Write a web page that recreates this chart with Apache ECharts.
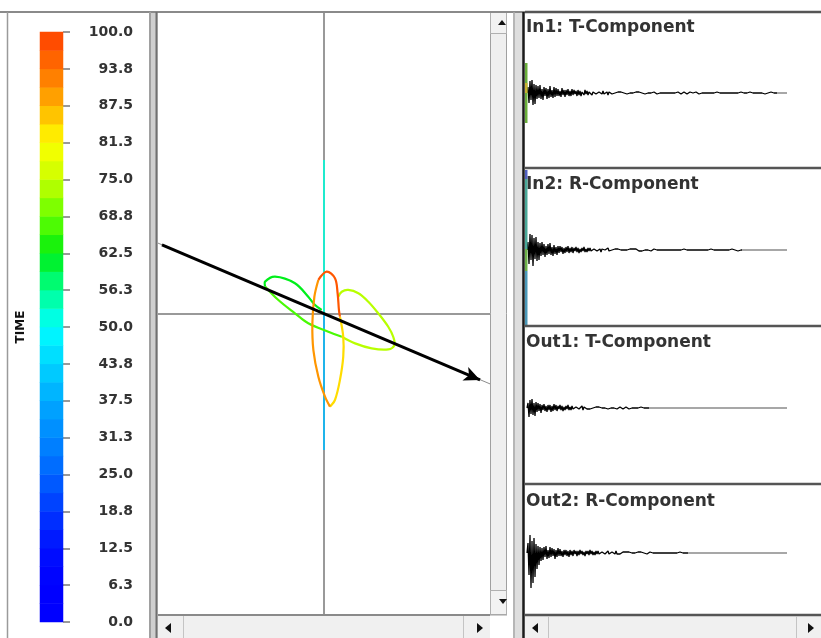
<!DOCTYPE html>
<html>
<head>
<meta charset="utf-8">
<title>Hodogram</title>
<script src="https://cdn.jsdelivr.net/npm/echarts@6/dist/echarts.min.js"></script>
<style>
  html, body { margin: 0; padding: 0; background: #fff; }
  #main { width: 821px; height: 638px; filter: blur(0.45px); }
</style>
</head>
<body>
<div id="main"></div>
<script>
// TIME colour scale, one colour per 6.25
const timeColors = ['#0000ff', '#0000ff', '#0010ff', '#0038ff', '#0064ff', '#0088ff', '#00aaff', '#00d4ff', '#00ffff',
  '#00ff90', '#00ee10', '#66ff00', '#c8ff00', '#ffff00', '#ffb000', '#ff7000', '#ff4000']
// colour bar cells (32 bands)
const colorCells = [1.6, 4.7, 7.8, 10.9, 14.1, 17.2, 20.3, 23.4, 26.6, 29.7, 32.8, 35.9, 39.1, 42.2, 45.3, 48.4,
  51.6, 54.7, 57.8, 60.9, 64.1, 67.2, 70.3, 73.4, 76.6, 79.7, 82.8, 85.9, 89.1, 92.2, 95.3, 98.4]

// particle motion, one piece per time
const partTime = [40, 52, 62, 67, 74, 84, 90, 97]
const partX = [
  [0, 0],
  [0, 0],
  [-0.014, -0.054, -0.095, -0.175, -0.295, -0.355, -0.355],
  [-0.355, -0.275, -0.175, -0.095, 0.026, 0.107],
  [0.107, 0.187, 0.287, 0.387, 0.424, 0.417, 0.387, 0.327, 0.267, 0.207, 0.146, 0.107, 0.086],
  [0.096, 0.116, 0.116, 0.096, 0.066, 0.036],
  [0.036, 0.006, -0.034, -0.064, -0.070, -0.058, -0.034],
  [-0.034, 0.016, 0.066, 0.082, 0.090, 0.096]
]
const partY = [
  [-0.822, 0],
  [0, 0.925],
  [0.021, 0.051, 0.101, 0.182, 0.222, 0.192, 0.163],
  [0.163, 0.081, 0.001, -0.059, -0.110, -0.140],
  [-0.140, -0.180, -0.210, -0.216, -0.190, -0.140, -0.080, 0.001, 0.071, 0.122, 0.142, 0.131, 0.101],
  [-0.019, -0.140, -0.260, -0.401, -0.521, -0.561],
  [-0.561, -0.501, -0.381, -0.220, -0.059, 0.101, 0.202],
  [0.202, 0.252, 0.212, 0.122, 0.021, -0.019]
]
// polarisation direction
const dirLineX = [-1, 1]
const dirLineY = [0.424, -0.424]
const arrowFrom = [-0.976, 0.414]
const arrowTo = [0.94, -0.4]

// seismograms, one sample per pixel
const traceNames = ['In1: T-Component', 'In2: R-Component', 'Out1: T-Component', 'Out2: R-Component']
const traceIn1 = [0, 6, -10, 12, -7, 13, -12, 9, -11, 8, -6,
  7, -5, 8, -6, 4, -7, 6, -3, 5, -6, 4, -5, 7, -4, 3, -5, 6, -4, 5, -3,
  4, -3, 2, -4, 5, -2, 3, -4, 3, -2, 4, -3, 2, -3, 4, -2, 3, -1, 2, -3, 3, -2, 2, -3, 1, 2, -2, 3, -1, 2,
  -2, 1, -1, 2, -2, 1, -1, 2, -1, 1, -2, 1, -1, 1, -1, 2, -1, 1, -1, 1, -2, 1, 0, 1, -1, 1, -1, 0, 1, -1,
  1, -1, 0, 1, -1, 1, 0, -1, 1, -1,
  0, 1, 0, -1, 1, 0, -1, 0, 1, -1, 0, 1, 0, -1, 0, 1, 0, -1, 1, 0, 0, -1, 1, 0, -1, 0, 1, 0, 0, -1,
  0, 1, 0, -1, 0, 0, 1, -1, 0, 0, 1, 0, -1, 0, 0, 1, 0, 0, -1, 0, 1, 0, 0, -1, 0, 0, 1, 0, 0, -1,
  0, 0, 1, 0, -1, 0, 0, 0, 1, 0, 0, -1, 0, 0, 0, 1, 0, 0, -1, 0,
  0, 0, 1, 0, 0, -1, 0, 0, 0, 1, 0, 0, 0, -1, 0, 0, 1, 0, 0, 0, -1, 0, 0, 0, 0, 1, 0, 0, 0, -1,
  0, 0, 0, 1, 0, 0, 0, 0, -1, 0, 0, 0, 1, 0, 0, 0, 0, -1, 0, 0, 0, 0, 1, 0, 0, 0, 0, -1, 0, 0,
  0, 0, 0, 1, 0, 0, 0, 0, -1, 0]
const traceIn2 = [0, 8, -14, 16, -10, 15, -16, 12, -9, 13, -11, 8, -10,
  7, -6, 8, -5, 6, -7, 4, -5, 6, -4, 7, -5, 3, -6, 5, -4, 3, -5, 4,
  -3, 4, -2, 3, -4, 2, -3, 3, -2, 4, -3, 2, -2, 3, -3, 2, -1, 3, -2, 2, -3, 1, -2, 2, -1, 3, -2, 1, -2, 2,
  -1, 2, -1, 1, -2, 1, -1, 2, -1, 1, -1, 1, -2, 1, -1, 1, 0, 1, -1, 2, -1, 1, -1, 0, 1, -1, 1, -1, 0, 1, -1, 1, 0, -1,
  1, 0, -1, 1, 0, -1, 0, 1, -1, 0, 1, 0, -1, 1, 0, 0, -1, 1, 0, -1, 0, 1, 0, 0, -1, 0, 1, 0, -1, 0,
  0, 1, 0, -1, 0, 0, 1, 0, -1, 0, 0, 1, 0, 0, -1, 0, 0, 1, 0, 0, -1, 0, 0, 0, 1, 0, 0, -1, 0, 0,
  0, 1, 0, 0, 0, -1, 0, 0, 0, 1, 0, 0, 0, 0, -1, 0, 0, 0, 1, 0, 0, 0, 0, -1, 0, 0, 0, 0, 1, 0,
  0, 0, 0, -1, 0, 0, 0, 0, 1, 0, 0, 0, 0, 0, -1, 0, 0, 0, 0, 1, 0, 0, 0, 0, 0, -1, 0, 0, 0, 0]
const traceOut1 = [0, 5, -9, 8, -6, 9, -7, 5, -8, 6, -4,
  5, -3, 4, -5, 3, -2, 4, -3, 2, -4, 3, -2, 3, -4, 2, -3, 4, -2, 3, -3, 2, -1, 3, -2, 2,
  -3, 1, -2, 2, -1, 3, -2, 1, -2, 2, -1, 1, -2, 1, -1, 2, -1, 1, -1, 2, -2, 1, -1, 1,
  -1, 1, 0, -1, 1, -1, 0, 1, -1, 1, 0, -1, 1, 0, -1, 0, 1, -1, 0, 1, 0, -1, 0, 1, 0, -1, 0, 0, 1, 0,
  -1, 0, 0, 1, 0, 0, -1, 0, 0, 1, 0, 0, -1, 0, 0, 0, 1, 0, 0, -1, 0, 0, 0, 0, 1, 0, 0, 0, -1, 0,
  0, 0, 0]
const traceOut2 = [0, 10, -22, 18, -35, 12, -30, 15, -24, 9, -16, 7, -12,
  6, -8, 5, -7, 6, -4, 7, -6, 3, -5, 6, -4, 5, -3, 4, -6, 3, -4, 5, -3, 4,
  -3, 2, -4, 3, -2, 3, -3, 2, -4, 3, -2, 2, -3, 3, -1, 2, -3, 2, -2, 3, -1, 2, -2, 1, -3, 2, -1, 2, -2, 3, -1, 2,
  -2, 1, -2, 2, -1, 2, -1, 1, -2, 1, -1, 2, -1, 1, -1, 2, -1, 1, -2, 1, -1, 1, -1, 2, -1, 1, 0, -1, 1, -1,
  1, 0, -1, 1, -1, 0, 1, -1, 1, 0, -1, 1, 0, -1, 0, 1, -1, 0, 1, 0, -1, 0, 1, 0, -1, 0, 0, 1, 0, -1,
  0, 0, 1, 0, -1, 0, 0, 1, 0, 0, -1, 0, 0, 1, 0, 0, -1, 0, 0, 0, 1, 0, 0, -1, 0, 0, 0, 1, 0, 0,
  0, -1, 0, 0, 0, 0]
const traces = [traceIn1, traceIn2, traceOut1, traceOut2]
const traceEnd = 260

// layout of the trace panels (top of each grid, title top)
const traceTop = [53, 210, 368, 513]
const titleTop = [19, 176, 334, 493]

const chart = echarts.init(document.getElementById('main'))

// window chrome (panel borders, scroll bars)
function ln(x1, y1, x2, y2, color, w) {
  return { type: 'line', z: 50, shape: { x1, y1, x2, y2 }, style: { stroke: color, lineWidth: w } }
}
function box(x, y, w, h, fill, stroke) {
  return { type: 'rect', z: 49, shape: { x, y, width: w, height: h }, style: { fill, stroke: stroke || null, lineWidth: 1 } }
}
function tri(points) {
  return { type: 'polygon', z: 51, shape: { points }, style: { fill: '#111' } }
}
const chrome = [
  ln(0, 12, 821, 12, '#8a8a8a', 2),
  ln(7.5, 12, 7.5, 638, '#9a9a9a', 1.5),
  // left separator
  box(149, 12, 9, 626, '#cfcfcf'),
  ln(150, 12, 150, 638, '#a0a0a0', 2),
  ln(156.5, 12, 156.5, 638, '#707070', 2),
  // vertical scroll bar of the hodogram
  box(490.5, 12.5, 16, 602, '#efefef', '#a0a0a0'),
  box(490.5, 12.5, 16, 21, '#f2f2f2', '#b0b0b0'),
  box(490.5, 590.5, 16, 24, '#f2f2f2', '#b0b0b0'),
  tri([[498, 25], [506, 25], [502, 20]]),
  tri([[499, 599], [507, 599], [503, 604]]),
  // separator before the traces
  box(513, 12, 10, 626, '#dedede'),
  ln(514, 12, 514, 638, '#a8a8a8', 1.5),
  ln(523.5, 12, 523.5, 638, '#1a1a1a', 2.5),
  // time strips at the left edge of the input traces
  box(525, 63, 2.5, 60, '#6aae3a'),
  box(525, 83, 2.5, 10, '#c8b030'),
  box(525, 170, 2.5, 9, '#5060c0'),
  box(525, 179, 2.5, 70, '#4aa898'),
  box(525, 249, 2.5, 22, '#6cb048'),
  box(525, 271, 2.5, 54, '#4a98b8'),
  // bottom scroll bars
  box(158, 615, 332, 23, '#f0f0f0'),
  ln(158, 615, 490, 615, '#8a8a8a', 2),
  ln(183.5, 616, 183.5, 638, '#c4c4c4', 1),
  ln(463.5, 616, 463.5, 638, '#c4c4c4', 1),
  tri([[171, 623], [171, 633], [165, 628]]),
  tri([[477, 623], [477, 633], [483, 628]]),
  ln(490, 615, 507, 615, '#a0a0a0', 1),
  box(525, 615, 296, 23, '#f0f0f0'),
  ln(525, 615, 821, 615, '#555555', 2.5),
  ln(548.5, 616, 548.5, 638, '#c4c4c4', 1),
  ln(796.5, 616, 796.5, 638, '#c4c4c4', 1),
  tri([[538, 623], [538, 633], [532, 628]]),
  tri([[808, 623], [808, 633], [814, 628]]),
  // trace panel frames
  ln(525, 12, 821, 12, '#555555', 2.5),
  ln(525, 168, 821, 168, '#555555', 2.5),
  ln(525, 326, 821, 326, '#555555', 2.5),
  ln(525, 484, 821, 484, '#555555', 2.5)
]

const xAxes = [
  { type: 'category', gridIndex: 0, data: ['TIME'], show: false },
  {
    type: 'value', gridIndex: 1, min: -1, max: 1,
    axisLine: { onZero: true, lineStyle: { color: '#999', width: 2 } },
    axisTick: { show: false }, axisLabel: { show: false }, splitLine: { show: false }
  }
]
const yAxes = [
  {
    type: 'category', gridIndex: 0, data: colorCells.map((v, i) => i),
    axisLine: { show: false }, axisTick: { show: false }, axisLabel: { show: false },
    name: 'TIME', nameLocation: 'middle', nameRotate: 90, nameGap: 13,
    nameTextStyle: { fontFamily: 'DejaVu Sans', fontWeight: 'bold', fontSize: 12, color: '#111' }
  },
  {
    type: 'value', gridIndex: 0, min: 0, max: 100, interval: 6.25, position: 'right',
    axisLine: { show: false },
    axisTick: { show: true, length: 7, lineStyle: { color: '#999', width: 2 } },
    axisLabel: {
      margin: 70, align: 'right', formatter: v => v.toFixed(1),
      fontFamily: 'DejaVu Sans', fontWeight: 'bold', fontSize: 14, color: '#333'
    },
    splitLine: { show: false }
  },
  {
    type: 'value', gridIndex: 1, min: -1.816, max: 1.816,
    axisLine: { onZero: true, lineStyle: { color: '#999', width: 2 } },
    axisTick: { show: false }, axisLabel: { show: false }, splitLine: { show: false }
  }
]
const grids = [
  { left: 40, top: 32, width: 23, height: 590 },
  { left: 158, top: 12, width: 332, height: 603 }
]
const titles = []
const series = [
  {
    type: 'heatmap', xAxisIndex: 0, yAxisIndex: 0,
    data: colorCells.map((v, i) => [0, i, v]),
    emphasis: { disabled: true }
  },
  {
    type: 'line', xAxisIndex: 1, yAxisIndex: 2, symbol: 'none', silent: true,
    data: dirLineX.map((x, i) => [x, dirLineY[i]]),
    lineStyle: { color: '#8c8c8c', width: 1 }
  },
  {
    type: 'custom', xAxisIndex: 1, yAxisIndex: 2, silent: true,
    data: partTime.map((t, k) => [k, t]),
    renderItem(params, api) {
      const k = api.value(0)
      const pts = partX[k].map((x, i) => api.coord([x, partY[k][i]]))
      return {
        type: 'polyline',
        shape: { points: pts, smooth: 0.35 },
        style: { stroke: api.visual('color'), lineWidth: k < 2 ? 1.6 : 2.2, fill: null }
      }
    }
  },
  {
    // arrow drawn as a mark line in the hodogram
    type: 'line', xAxisIndex: 1, yAxisIndex: 2, symbol: 'none', silent: true, data: [],
    markLine: {
      silent: true, symbol: ['none', 'arrow'], symbolSize: [11, 16],
      label: { show: false },
      lineStyle: { color: '#000', width: 3, type: 'solid' },
      data: [[{ coord: arrowFrom }, { coord: arrowTo }]]
    }
  }
]

traces.forEach((trace, n) => {
  grids.push({ left: 527, top: traceTop[n], width: 260, height: 80 })
  xAxes.push({ type: 'value', gridIndex: n + 2, min: 0, max: traceEnd, show: false })
  yAxes.push({ type: 'value', gridIndex: n + 2, min: -40, max: 40, show: false })
  // recorded samples
  series.push({
    type: 'line', xAxisIndex: n + 2, yAxisIndex: n + 3, symbol: 'none', silent: true,
    data: trace.map((v, i) => [i, v]),
    lineStyle: { color: '#000', width: 1.3 }
  })
  // quiet tail up to the end of the window
  series.push({
    type: 'line', xAxisIndex: n + 2, yAxisIndex: n + 3, symbol: 'none', silent: true,
    data: [[trace.length - 1, 0], [traceEnd, 0]],
    lineStyle: { color: '#8a8a8a', width: 1.3 }
  })
  titles.push({
    text: traceNames[n], left: 526, top: titleTop[n], padding: 0,
    textStyle: { fontFamily: 'DejaVu Sans', fontWeight: 'bold', fontSize: 17, color: '#333' }
  })
})

chart.setOption({
  animation: false,
  backgroundColor: '#fff',
  title: titles,
  grid: grids,
  xAxis: xAxes,
  yAxis: yAxes,
  visualMap: [
    { type: 'continuous', show: false, min: 0, max: 100, dimension: 2, seriesIndex: 0, inRange: { color: timeColors } },
    { type: 'continuous', show: false, min: 0, max: 100, dimension: 1, seriesIndex: 2, inRange: { color: timeColors } }
  ],
  graphic: chrome,
  series: series
})
</script>
</body>
</html>
